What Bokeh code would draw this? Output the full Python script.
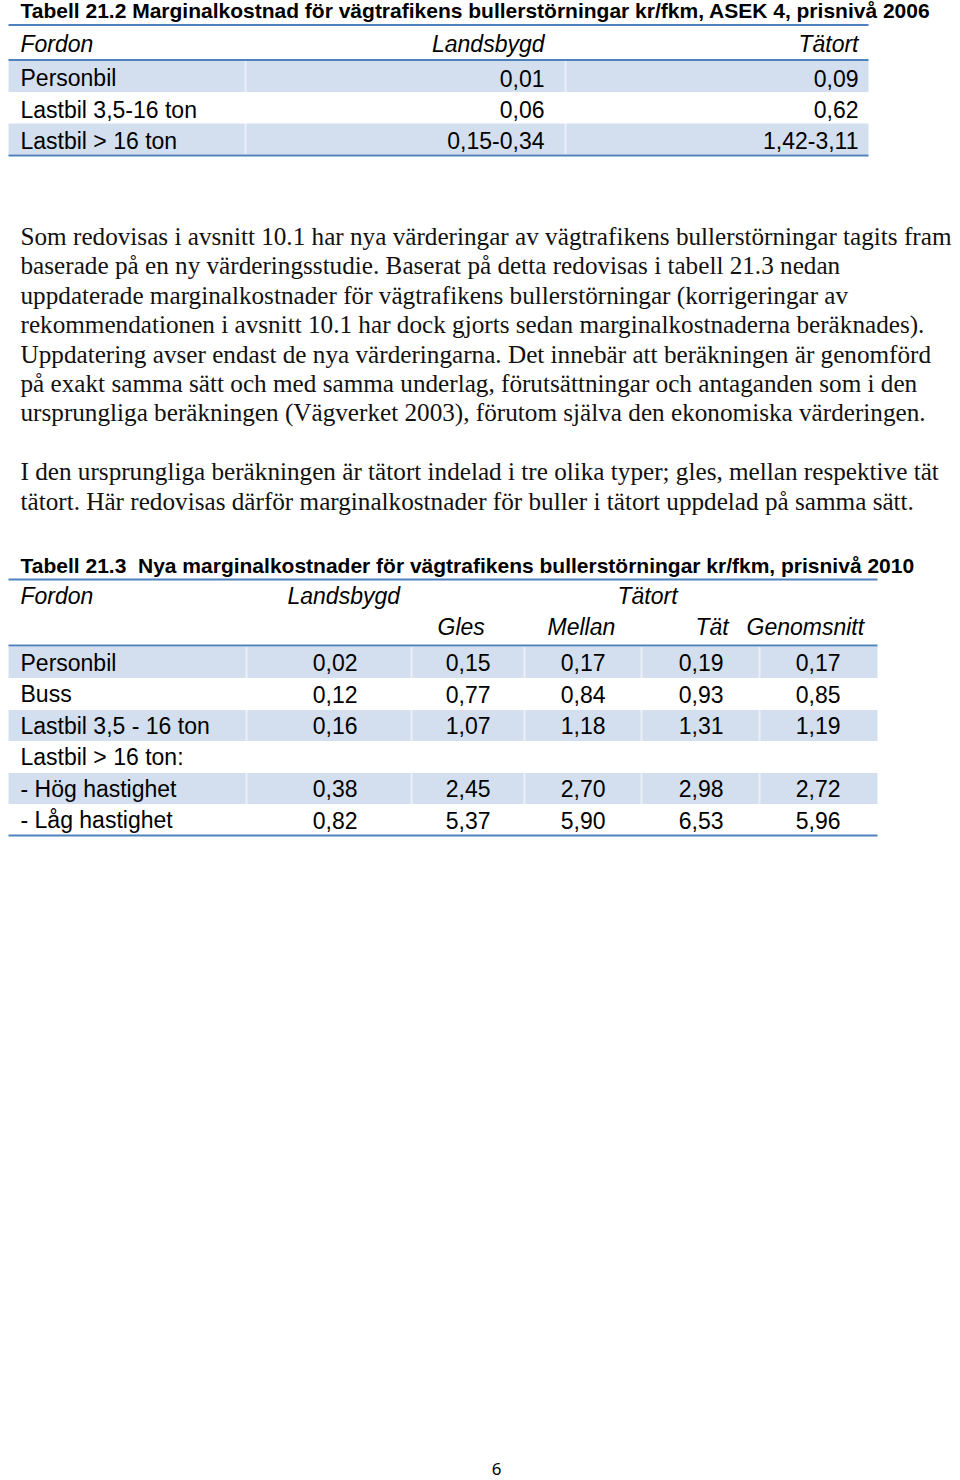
from bokeh.plotting import figure
from bokeh.models import Range1d, ColumnDataSource
from bokeh.embed import file_html
from bokeh.resources import INLINE
from bokeh.core.properties import value

# ---------------- data ----------------
t1_title = "Tabell 21.2 Marginalkostnad för vägtrafikens bullerstörningar kr/fkm, ASEK 4, prisnivå 2006"
t1_headers = ["Fordon", "Landsbygd", "Tätort"]
t1_vehicles = ["Personbil", "Lastbil 3,5-16 ton", "Lastbil > 16 ton"]
t1_landsbygd = ["0,01", "0,06", "0,15-0,34"]
t1_tatort = ["0,09", "0,62", "1,42-3,11"]

body_par1 = [
    "Som redovisas i avsnitt 10.1 har nya värderingar av vägtrafikens bullerstörningar tagits fram",
    "baserade på en ny värderingsstudie. Baserat på detta redovisas i tabell 21.3 nedan",
    "uppdaterade marginalkostnader för vägtrafikens bullerstörningar (korrigeringar av",
    "rekommendationen i avsnitt 10.1 har dock gjorts sedan marginalkostnaderna beräknades).",
    "Uppdatering avser endast de nya värderingarna. Det innebär att beräkningen är genomförd",
    "på exakt samma sätt och med samma underlag, förutsättningar och antaganden som i den",
    "ursprungliga beräkningen (Vägverket 2003), förutom själva den ekonomiska värderingen.",
]
body_par2 = [
    "I den ursprungliga beräkningen är tätort indelad i tre olika typer; gles, mellan respektive tät",
    "tätort. Här redovisas därför marginalkostnader för buller i tätort uppdelad på samma sätt.",
]

t2_title = "Tabell 21.3\u00a0 Nya marginalkostnader för vägtrafikens bullerstörningar kr/fkm, prisnivå 2010"
t2_group_headers = ["Fordon", "Landsbygd", "Tätort"]
t2_sub_headers = ["Gles", "Mellan", "Tät", "Genomsnitt"]
t2_vehicles = ["Personbil", "Buss", "Lastbil 3,5 - 16 ton", "Lastbil > 16 ton:",
               "- Hög hastighet", "- Låg hastighet"]
t2_landsbygd = [0.02, 0.12, 0.16, None, 0.38, 0.82]
t2_gles = [0.15, 0.77, 1.07, None, 2.45, 5.37]
t2_mellan = [0.17, 0.84, 1.18, None, 2.70, 5.90]
t2_tat = [0.19, 0.93, 1.31, None, 2.98, 6.53]
t2_genomsnitt = [0.17, 0.85, 1.19, None, 2.72, 5.96]

page_number = "6"

# ---------------- layout / style ----------------
BLUE = "#4F81BD"
BAND = "#D3DFEE"
SANS = "Liberation Sans"
SERIF = "Liberation Serif"
TXT = "#000000"

W, H = 960, 1480
p = figure(width=W, height=H, output_backend="svg", toolbar_location=None,
           x_range=Range1d(0, W), y_range=Range1d(H, 0),
           min_border=0, outline_line_color=None, background_fill_color="white")
p.axis.visible = False
p.grid.visible = False

BASE_SHIFT = 0.36  # renderer draws alphabetic text slightly low; compensate (in em)


def txt(xs, ys, texts, font=SANS, size=23, style="normal", align="left", color=TXT):
    ys = [y - BASE_SHIFT * size for y in ys]
    src = ColumnDataSource(dict(x=list(xs), y=list(ys), text=list(texts)))
    p.text(x="x", y="y", text="text", source=src, text_font=value(font),
           text_font_size=f"{size}px", text_font_style=style, text_align=align,
           text_baseline="alphabetic", text_color=color)


def fmt(v):
    return "" if v is None else f"{v:.2f}".replace(".", ",")


def hline(y, x0, x1, width=2.2):
    p.segment(x0=[x0], y0=[y], x1=[x1], y1=[y], line_color=BLUE, line_width=width)


TEXT_X = 20
TABLE_L = 8

# ---- table 21.2 ----
T1_R = 868
T1_ROW0_BASE, T1_PITCH = 86, 31.3
txt([TEXT_X], [18], [t1_title], size=21, style="bold")
hline(24.5, TABLE_L, T1_R)
txt([TEXT_X], [52], [t1_headers[0]], style="italic")
txt([544, 858], [52, 52], t1_headers[1:], style="italic", align="right")
hline(59.5, TABLE_L, T1_R)
n1 = len(t1_vehicles)
bases1 = [T1_ROW0_BASE + i * T1_PITCH for i in range(n1)]
band_rows1 = [i for i in range(n1) if i % 2 == 0]
p.quad(left=[TABLE_L] * len(band_rows1), right=[T1_R] * len(band_rows1),
       top=[bases1[i] - 25.5 for i in band_rows1], bottom=[bases1[i] + 5.5 for i in band_rows1],
       fill_color=BAND, line_color=None)
for sx in (245, 565):
    p.segment(x0=[sx] * len(band_rows1), x1=[sx] * len(band_rows1),
              y0=[bases1[i] - 25.5 for i in band_rows1], y1=[bases1[i] + 5.5 for i in band_rows1],
              line_color="white", line_alpha=0.5, line_width=2)
txt([TEXT_X] * n1, bases1, t1_vehicles)
txt([544] * n1, bases1, t1_landsbygd, align="right")
txt([858] * n1, bases1, t1_tatort, align="right")
hline(155, TABLE_L, T1_R)

# ---- body text ----
BODY_BASE, BODY_PITCH = 245, 29.4
body_all = body_par1 + [None] + body_par2
bx, by, bt = [], [], []
for i, line in enumerate(body_all):
    if line is None:
        continue
    bx.append(TEXT_X)
    by.append(BODY_BASE + i * BODY_PITCH)
    bt.append(line)
txt(bx, by, bt, font=SERIF, size=25.2, color="#111111")

# ---- table 21.3 ----
T2_R = 877
txt([TEXT_X], [573], [t2_title], size=21, style="bold")
hline(579, TABLE_L, T2_R)
txt([TEXT_X, 287, 617], [604, 604, 604], t2_group_headers, style="italic")
txt([437, 547, 695, 746], [635] * 4, t2_sub_headers, style="italic")
hline(645, TABLE_L, T2_R)
n2 = len(t2_vehicles)
T2_ROW0_BASE, T2_PITCH = 670.5, 31.5
bases2 = [T2_ROW0_BASE + i * T2_PITCH for i in range(n2)]
band_rows2 = [i for i in range(n2) if i % 2 == 0]
p.quad(left=[TABLE_L] * len(band_rows2), right=[T2_R] * len(band_rows2),
       top=[bases2[i] - 24 for i in band_rows2], bottom=[bases2[i] + 7 for i in band_rows2],
       fill_color=BAND, line_color=None)
for sx in (246, 411, 524, 641, 759):
    p.segment(x0=[sx] * len(band_rows2), x1=[sx] * len(band_rows2),
              y0=[bases2[i] - 24 for i in band_rows2], y1=[bases2[i] + 7 for i in band_rows2],
              line_color="white", line_alpha=0.5, line_width=2)
txt([TEXT_X] * n2, bases2, t2_vehicles)
for col_r, vals in zip([357, 490, 605, 723, 840],
                       [t2_landsbygd, t2_gles, t2_mellan, t2_tat, t2_genomsnitt]):
    txt([col_r] * n2, bases2, [fmt(v) for v in vals], align="right")
hline(835, TABLE_L, T2_R)

# ---- page number ----
txt([496], [1475], [page_number], font="Noto Sans", size=17, align="center")

open("out.html", "w").write(file_html(p, INLINE))
